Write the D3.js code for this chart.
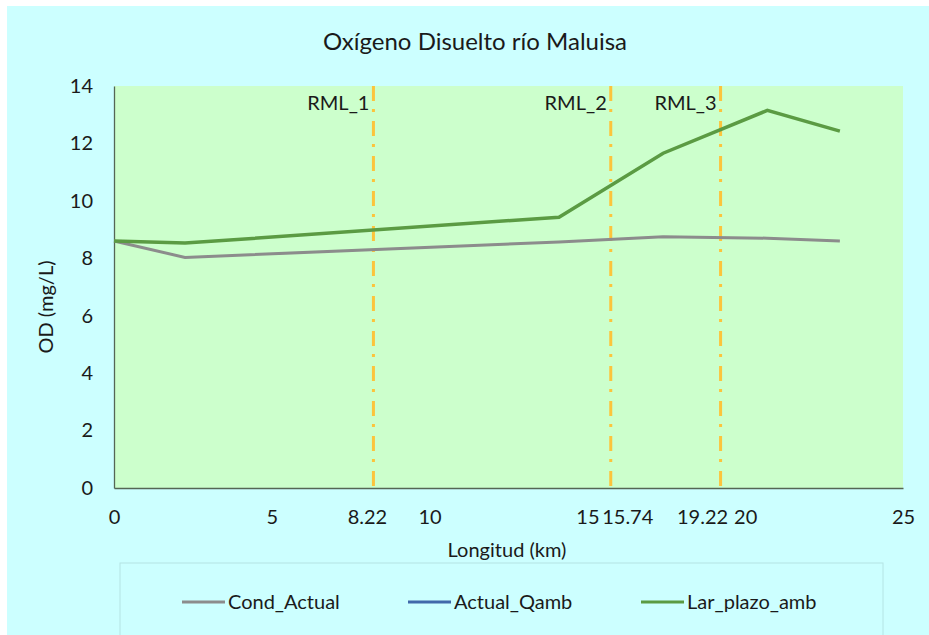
<!DOCTYPE html>
<html>
  <head>
    <title>Oxígeno Disuelto río Maluisa</title>
    <script src="https://cdn.jsdelivr.net/npm/d3@7/dist/d3.min.js"></script>
    <style>
      body { margin: 0; background: #fff; }
      svg { display: block; }
      svg text { font-family: Lato, 'Open Sans', sans-serif; fill: #1a1a1a; }
    </style>
  </head>
  <body>
    <svg></svg>
    <script>
      // data
      const km        = [0, 2.25, 14.1, 17.4, 20.7, 23.0];
      const condActual = [8.6, 8.03, 8.57, 8.75, 8.7, 8.6];
      const larPlazo   = [8.6, 8.53, 9.43, 11.66, 13.15, 12.43];
      const seriesNames = ['Cond_Actual', 'Actual_Qamb', 'Lar_plazo_amb'];
      const seriesColors = ['#8c8c8c', '#4169aa', '#5b9b43'];
      const rmlNames = ['RML_1', 'RML_2', 'RML_3'];
      const rmlKm    = [8.22, 15.74, 19.22];
      const xTicks = [0, 5, 10, 15, 20, 25];
      const yTicks = [0, 2, 4, 6, 8, 10, 12, 14];

      const width = 929, height = 635;
      const svg = d3.select('svg')
        .attr('width', width)
        .attr('height', height);

      // chart area (white strip on top and left like the screenshot)
      svg.append('rect')
        .attr('x', 7).attr('y', 6)
        .attr('width', width - 7).attr('height', height - 6)
        .attr('fill', '#ccffff');

      const margin = { top: 86, right: 26, bottom: 147, left: 114 };
      const innerWidth = width - margin.left - margin.right;
      const innerHeight = height - margin.top - margin.bottom;

      const x = d3.scaleLinear().domain([0, 25]).range([0, innerWidth]);
      const y = d3.scaleLinear().domain([0, 14]).range([innerHeight, 0]);

      const g = svg.append('g')
        .attr('transform', `translate(${margin.left},${margin.top})`);

      g.append('rect')
        .attr('width', innerWidth)
        .attr('height', innerHeight)
        .attr('fill', '#ccffcc');

      // title
      svg.append('text')
        .attr('x', 475).attr('y', 50)
        .attr('text-anchor', 'middle')
        .attr('font-size', 24)
        .text('Oxígeno Disuelto río Maluisa');

      // axes
      const yAxisG = g.append('g')
        .call(d3.axisLeft(y).tickValues(yTicks).tickSize(0).tickPadding(21))
        .attr('font-size', 20)
        .attr('font-family', null);
      yAxisG.select('.domain').attr('stroke', '#556655').attr('stroke-width', 1.3);

      const xAxisG = g.append('g')
        .attr('transform', `translate(0,${innerHeight})`)
        .call(d3.axisBottom(x).tickValues(xTicks).tickSize(0).tickPadding(22))
        .attr('font-size', 20)
        .attr('font-family', null);
      xAxisG.select('.domain').attr('stroke', '#556655').attr('stroke-width', 1.3);

      svg.append('text')
        .attr('transform', `translate(53,307) rotate(-90)`)
        .attr('text-anchor', 'middle')
        .attr('font-size', 20)
        .text('OD (mg/L)');

      svg.append('text')
        .attr('x', 507).attr('y', 557)
        .attr('text-anchor', 'middle')
        .attr('font-size', 20)
        .text('Longitud (km)');

      // RML sampling points
      const labelShift = [-6, 17, -18];
      rmlKm.forEach((k, i) => {
        g.append('line')
          .attr('x1', x(k)).attr('x2', x(k))
          .attr('y1', 0).attr('y2', innerHeight)
          .attr('stroke', '#fcc43c')
          .attr('stroke-width', 3)
          .attr('stroke-dasharray', '15,8,3,9');
        g.append('text')
          .attr('x', x(k) - 4).attr('y', 24)
          .attr('text-anchor', 'end')
          .attr('font-size', 20)
          .text(rmlNames[i]);
        g.append('text')
          .attr('x', x(k) + labelShift[i]).attr('y', innerHeight + 22)
          .attr('dy', '0.71em')
          .attr('text-anchor', 'middle')
          .attr('font-size', 20)
          .text(k.toFixed(2));
      });

      // lines
      const line = d3.line()
        .x((d, i) => x(km[i]))
        .y(d => y(d));

      g.append('path')
        .datum(condActual)
        .attr('fill', 'none')
        .attr('stroke', seriesColors[0])
        .attr('stroke-width', 3)
        .attr('d', line);

      g.append('path')
        .datum(larPlazo)
        .attr('fill', 'none')
        .attr('stroke', seriesColors[2])
        .attr('stroke-width', 3.5)
        .attr('d', line);

      // legend
      svg.append('rect')
        .attr('x', 120).attr('y', 563)
        .attr('width', 763).attr('height', 80)
        .attr('fill', 'none')
        .attr('stroke', '#b4e4e4');

      const legendX = [182, 408, 641];
      seriesNames.forEach((name, i) => {
        svg.append('line')
          .attr('x1', legendX[i]).attr('x2', legendX[i] + 43)
          .attr('y1', 602).attr('y2', 602)
          .attr('stroke', seriesColors[i])
          .attr('stroke-width', 3);
        svg.append('text')
          .attr('x', legendX[i] + 46).attr('y', 609)
          .attr('font-size', 20)
          .text(name);
      });
    </script>
  </body>
</html>
